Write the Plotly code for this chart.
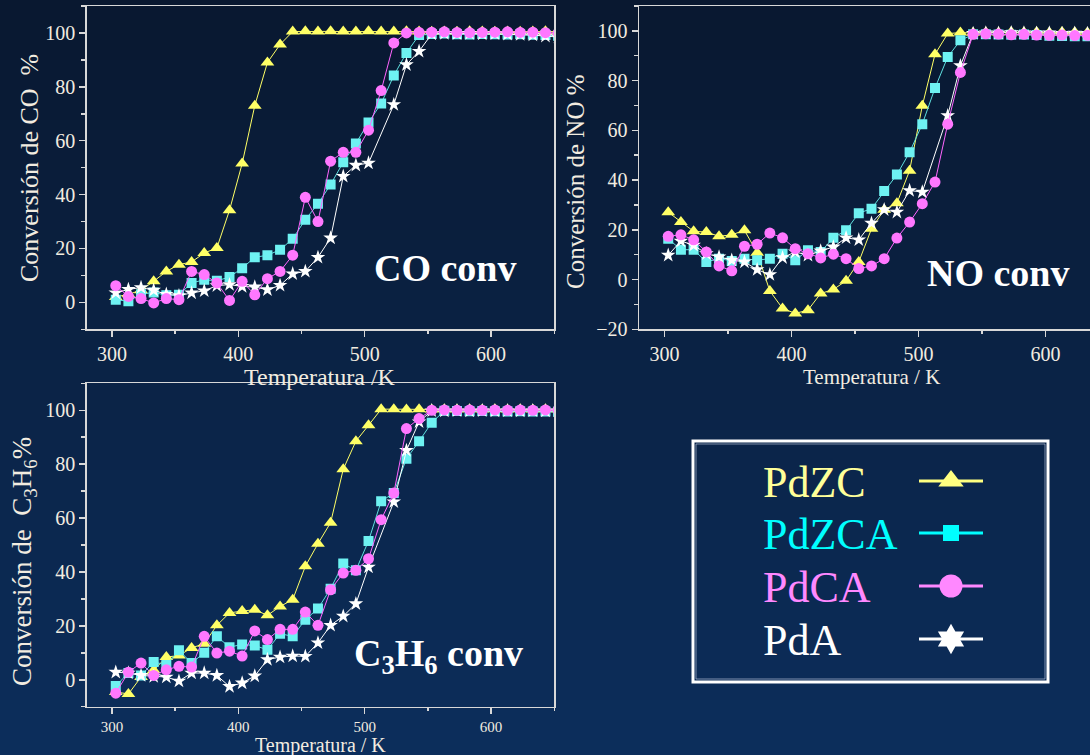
import plotly.graph_objects as go

# ---------------- data ----------------
T = [303, 313, 323, 333, 343, 353, 363, 373, 383, 393, 403, 413, 423, 433, 443, 453, 463, 473,
     483, 493, 503, 513, 523, 533, 543, 553, 563, 573, 583, 593, 603, 613, 623, 633, 643, 653]

series_names = ["PdZC", "PdZCA", "PdCA", "PdA"]

CO_PdZC = [2.0, 3.0, 4.5, 7.8, 11.5, 14.0, 15.0, 18.3, 20.2, 34.2, 51.5, 73.0, 89.0, 95.7, 100.5, 100.6,
           100.5, 100.6, 100.5, 100.5, 100.6, 100.5, 100.5, 100.6, 100.5, 100.4, 100.5, 100.4, 100.6, 100.5,
           100.4, 100.5, 100.4, 100.5, 100.6, 100.5]
CO_PdZCA = [1.0, 0.4, 3.0, 3.7, 2.6, 2.8, 7.2, 8.4, 8.0, 9.4, 12.7, 16.7, 17.5, 19.5, 23.6, 30.7, 36.6, 43.7,
            52.0, 59.0, 66.8, 73.8, 84.2, 92.6, 99.2, 99.6, 99.8, 99.5, 99.4, 99.6, 99.5, 99.4, 99.5, 99.3,
            99.2, 99.0]
CO_PdCA = [6.2, 2.2, 1.4, -0.2, 1.4, 1.0, 11.5, 10.3, 7.2, 0.7, 7.8, 2.8, 8.8, 11.5, 17.5, 39.0, 30.0, 52.4,
           55.7, 55.7, 63.9, 78.6, 96.3, 100.0, 100.2, 100.3, 100.4, 100.2, 100.1, 100.2, 100.3, 100.4,
           100.2, 100.3, 100.1, 100.0]
CO_PdA = [3.5, 4.8, 5.5, 4.5, 3.0, 2.5, 3.5, 4.3, 6.2, 6.6, 5.9, 5.7, 4.7, 6.3, 10.6, 11.5, 16.7, 23.9,
          46.8, 50.9, 51.7, None, 73.4, 88.2, 93.2, 99.6, 99.8, 99.7, 99.8, 99.6, 99.7, 99.5, 99.4, 99.2,
          98.8, 98.5]

NO_PdZC = [27.1, 23.1, 19.4, 19.1, 17.4, 18.0, 19.8, 10.8, -4.6, -11.6, -13.6, -12.3, -5.6, -4.0, -0.5, 7.1,
           20.4, 28.1, 30.7, 43.8, 69.9, 90.6, 98.9, 99.3, 99.2, 99.4, 99.3, 99.5, 99.4, 99.5, 99.3, 99.5,
           99.4, 99.3, 99.4, 99.3]
NO_PdZCA = [16.4, 12.0, 12.0, 7.1, 8.4, 7.5, 8.4, 7.8, 8.4, 10.4, 7.8, 11.8, 11.1, 16.8, 19.8, 26.7, 28.5,
            35.6, 42.2, 51.2, 62.5, 77.0, 89.5, 96.2, 98.6, 98.6, 98.5, 98.4, 98.5, 98.3, 98.0, 97.9, 97.8,
            97.8, 97.8, 97.8]
NO_PdCA = [17.4, 18.0, 16.0, 11.1, 5.5, 3.5, 13.4, 14.2, 18.7, 16.8, 12.4, 10.4, 8.7, 10.2, 8.4, 4.4, 5.5,
           8.4, 16.7, 23.1, 30.5, 39.2, 62.5, 83.3, 98.6, 98.8, 98.7, 98.4, 98.6, 98.3, 98.2, 98.3, 98.1,
           98.2, 98.0, 98.0]
NO_PdA = [9.8, 15.5, 13.8, 10.4, 9.1, 7.8, 7.1, 4.0, 2.0, 8.8, 11.1, 9.8, 11.5, 13.1, 16.8, 16.0, 22.7,
          28.1, 27.1, 35.8, 35.2, None, 65.9, 86.0, 99.0, 99.2, 99.1, 99.3, 99.2, 99.1, 99.2, 99.0, 99.1,
          99.0, 99.1, 99.0]

C3_PdZC = [-4.5, -5.3, 1.0, 3.5, 8.4, 9.0, 11.8, 13.4, 20.2, 24.8, 25.5, 26.0, 23.9, 27.2, 29.7, 42.1,
           50.5, 58.3, 78.1, 88.5, 94.4, 100.4, 100.4, 100.3, 100.4, 100.3, 100.4, 100.3, 100.4, 100.3,
           100.4, 100.3, 100.4, 100.3, 100.4, 100.3]
C3_PdZCA = [-2.3, 2.5, 1.6, 6.6, 5.5, 10.9, 6.2, 10.0, 16.1, 12.1, 13.1, 12.7, 11.1, 17.1, 16.1, 22.3, 26.4,
            33.8, 43.1, 40.6, 51.5, 66.2, 69.3, 82.0, 88.5, 95.4, 99.8, 99.7, 99.6, 99.7, 99.6, 99.5, 99.6,
            99.5, 99.5, 99.4]
C3_PdCA = [-5.0, 2.8, 6.2, 1.6, 3.7, 5.0, 4.7, 16.1, 9.9, 10.6, 8.8, 18.1, 14.9, 18.7, 18.7, 25.1, 20.2,
           33.4, 39.6, 40.6, 44.9, 59.4, 69.3, 93.2, 96.9, 100.0, 100.1, 100.0, 100.1, 100.0, 100.1, 100.0,
           100.1, 100.0, 100.1, 100.0]
C3_PdA = [2.8, 2.5, 1.6, 1.2, 1.0, -0.5, 2.5, 2.5, 1.6, -2.5, -1.2, 1.4, 7.5, 8.4, 8.8, 8.7, 13.7, 20.2,
          23.6, 28.2, 41.8, None, 66.0, 85.1, 95.7, 99.8, 99.7, 99.8, 99.7, 99.8, 99.7, 99.8, 99.7, 99.8,
          99.7, 99.8]

x_ticks = [300, 400, 500, 600]

# ---------------- style ----------------
W, H = 1090, 755
SERIF = "Liberation Serif, Times New Roman, serif"
TXT = "#f2ece0"
AX = "#d8d8d8"

styles = {
    "PdZC": dict(symbol="triangle-up", size=12, color="#ffff66", line="#ffff66", leg_text="#ffff99", leg_line="#ffff80"),
    "PdZCA": dict(symbol="square", size=10, color="#6ef2f2", line="#5fe0e0", leg_text="#00ffff", leg_line="#00ffff"),
    "PdCA": dict(symbol="circle", size=11, color="#ff77ff", line="#ff66ff", leg_text="#ff88ff", leg_line="#ff88ff"),
    "PdA": dict(symbol="star", size=11, color="#ffffff", line="#ffffff", leg_text="#ffffff", leg_line="#ffffff"),
}
draw_order = ["PdZC", "PdZCA", "PdA", "PdCA"]

def px_x(p):
    return p / W

def px_y(p):
    return 1 - p / H

fig = go.Figure()

panels = [
    ("x", "y", {"PdZC": CO_PdZC, "PdZCA": CO_PdZCA, "PdCA": CO_PdCA, "PdA": CO_PdA}),
    ("x2", "y2", {"PdZC": NO_PdZC, "PdZCA": NO_PdZCA, "PdCA": NO_PdCA, "PdA": NO_PdA}),
    ("x3", "y3", {"PdZC": C3_PdZC, "PdZCA": C3_PdZCA, "PdCA": C3_PdCA, "PdA": C3_PdA}),
]
for xa, ya, dat in panels:
    for name in draw_order:
        s = styles[name]
        fig.add_trace(go.Scatter(
            x=T, y=dat[name], xaxis=xa, yaxis=ya, mode="lines+markers", name=name,
            connectgaps=True, showlegend=False,
            line=dict(color=s["line"], width=1),
            marker=dict(symbol=s["symbol"], size=s["size"], color=s["color"], line=dict(width=0)),
        ))

# legend symbols (overlay pixel axis)
leg_rows = [481, 533, 586, 639]
leg_sizes = {"PdZC": 22, "PdZCA": 16, "PdCA": 23, "PdA": 23}
for name, yy in zip(series_names, leg_rows):
    s = styles[name]
    fig.add_trace(go.Scatter(
        x=[919, 983], y=[yy, yy], xaxis="x4", yaxis="y4", mode="lines",
        showlegend=False, line=dict(color=s["leg_line"], width=3), hoverinfo="skip",
    ))
    fig.add_trace(go.Scatter(
        x=[951], y=[yy], xaxis="x4", yaxis="y4", mode="markers", showlegend=False,
        marker=dict(symbol="hexagram" if name == "PdA" else s["symbol"], size=leg_sizes[name],
                    color=s["leg_line"], line=dict(width=0)),
        hoverinfo="skip",
    ))

def axis_common(fs):
    return dict(showgrid=False, zeroline=False, showline=True, linecolor=AX, linewidth=1.5,
                mirror=True, ticks="outside", ticklen=6, tickwidth=1.5, tickcolor=AX,
                tickfont=dict(family=SERIF, size=fs, color=TXT), automargin=False)

xr = [280, 650]
fig.update_layout(
    width=W, height=H,
    margin=dict(l=0, r=0, t=0, b=0),
    paper_bgcolor="#0c2548",
    plot_bgcolor="rgba(0,0,0,0)",
    xaxis=dict(domain=[px_x(86.7), px_x(554.3)], anchor="y", range=xr, tickvals=x_ticks,
               minor=dict(tickvals=[350, 450, 550, 650], ticks="outside", ticklen=3, tickcolor=AX),
               **axis_common(20)),
    yaxis=dict(domain=[px_y(329.3), px_y(6)], anchor="x", range=[-10, 110], dtick=20, tick0=0,
               minor=dict(dtick=10, tick0=0, ticks="outside", ticklen=4, tickcolor=AX),
               **axis_common(20)),
    xaxis2=dict(domain=[px_x(639), 1.0], anchor="y2", range=[280, 635], tickvals=x_ticks,
                minor=dict(tickvals=[350, 450, 550], ticks="outside", ticklen=3, tickcolor=AX),
                **axis_common(20)),
    yaxis2=dict(domain=[px_y(329.3), px_y(6)], anchor="x2", range=[-20, 110], dtick=20, tick0=0,
                minor=dict(dtick=10, tick0=0, ticks="outside", ticklen=4, tickcolor=AX),
                **axis_common(20)),
    xaxis3=dict(domain=[px_x(86.7), px_x(554.3)], anchor="y3", range=xr, tickvals=x_ticks,
                minor=dict(tickvals=[350, 450, 550, 650], ticks="outside", ticklen=3, tickcolor=AX),
                **axis_common(15)),
    yaxis3=dict(domain=[px_y(706.7), px_y(383.3)], anchor="x3", range=[-10, 110], dtick=20, tick0=0,
                minor=dict(dtick=10, tick0=0, ticks="outside", ticklen=4, tickcolor=AX),
                **axis_common(20)),
    xaxis4=dict(domain=[0, 1], anchor="y4", range=[0, W], visible=False, fixedrange=True),
    yaxis4=dict(domain=[0, 1], anchor="x4", range=[H, 0], visible=False, fixedrange=True),
    hovermode=False,
)

# background gradient bands
shapes = []
n = 76
top = (9, 24, 48)
bot = (12, 46, 92)
for i in range(n):
    f = i / (n - 1)
    c = tuple(int(round(top[k] + (bot[k] - top[k]) * f)) for k in range(3))
    shapes.append(dict(type="rect", xref="paper", yref="paper", x0=0, x1=1,
                       y0=1 - (i + 1) * 10 / H, y1=1 - i * 10 / H,
                       fillcolor="rgb(%d,%d,%d)" % c, line=dict(width=0), layer="below"))
# legend box
shapes.append(dict(type="rect", xref="x4", yref="y4", x0=693, x1=1048, y0=441, y1=682,
                   line=dict(color="#ffffff", width=3), fillcolor="rgba(0,0,0,0)", layer="above"))
shapes.append(dict(type="rect", xref="x4", yref="y4", x0=696, x1=1045, y0=444, y1=679,
                   line=dict(color="rgba(200,210,230,0.6)", width=1), fillcolor="rgba(0,0,0,0)", layer="above"))
fig.update_layout(shapes=shapes)

ann = []
def A(text, x, y, size, color=TXT, angle=0, bold=False, xanchor="center"):
    t = "<b>%s</b>" % text if bold else text
    ann.append(dict(text=t, x=x, y=y, xref="x4", yref="y4", showarrow=False, textangle=angle,
                    xanchor=xanchor, yanchor="middle", borderpad=0,
                    font=dict(family=SERIF, size=size, color=color)))

# axis titles
A("Conversión de CO  %", 29, 168, 26, angle=-90)
A("Temperatura /K", 320, 377, 24)
A("Conversión de NO %", 575, 182, 25, angle=-90)
A("Temperatura / K", 871, 377, 21)
A("Conversión de  C<sub>3</sub>H<sub>6</sub>%", 24, 562, 27, angle=-90)
A("Temperatura / K", 320, 745, 20)
# panel labels
A("CO conv", 445, 268, 38, color="#ffffff", bold=True)
A("NO conv", 998, 273, 38, color="#ffffff", bold=True)
A("C<sub>3</sub>H<sub>6</sub> conv", 438, 656, 38, color="#ffffff", bold=True)
# legend texts
for name, yy in zip(series_names, leg_rows):
    A(name, 762, yy + 1, 44, color=styles[name]["leg_text"], xanchor="left")
fig.update_layout(annotations=ann)

fig.write_html("out.html", config={"displayModeBar": False, "staticPlot": True},
               post_script="document.body.style.margin='0px';document.body.style.background='#0c2548';")
